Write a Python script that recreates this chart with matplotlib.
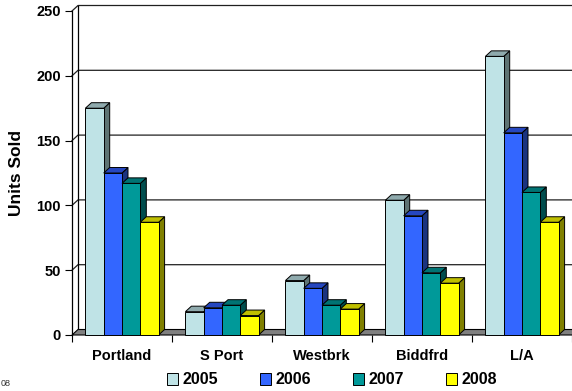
import matplotlib
matplotlib.use("Agg")
import matplotlib.pyplot as plt
from matplotlib.patches import Polygon, Patch
import numpy as np

plt.rcParams['font.family'] = ['Liberation Sans', 'DejaVu Sans']

towns = ['Portland', 'S Port', 'Westbrk', 'Biddfrd', 'L/A']
years = ['2005', '2006', '2007', '2008']
units_2005 = [175, 18, 42, 104, 215]
units_2006 = [125, 21, 36, 92, 156]
units_2007 = [117, 23, 23, 48, 110]
units_2008 = [87, 15, 20, 40, 87]
yticks = [0, 50, 100, 150, 200, 250]

series = [units_2005, units_2006, units_2007, units_2008]
front = ['#BFE3E6', '#3366FF', '#009999', '#FFFF00']
side = ['#5E7373', '#1A3380', '#004D4D', '#808000']
top = ['#8FAAAD', '#2647BF', '#007373', '#BFBF00']

W, H = 572, 391
fig = plt.figure(figsize=(W / 100, H / 100), dpi=100)
ax = fig.add_axes([72 / W, 56 / H, 500 / W, 324 / H])
ax.set_xlim(-0.5, 4.5)
ax.set_ylim(0, 250)

# depth of the 3d look, in data units (about 6 px right, 5.5 px up)
dx = 6 / 100
dy = 5.5 * 250 / 324
x0, x1 = -0.5, 4.5

# back wall, left wall and gridlines
for v in yticks[1:]:
    ax.plot([x0, x0 + dx, x1 + dx + 1], [v, v + dy, v + dy], color='#202020',
            lw=0.9, clip_on=False, zorder=0)
ax.plot([x0 + dx, x0 + dx], [dy, 250 + dy], color='black', lw=0.9, clip_on=False, zorder=0)

# floor
ax.add_patch(Polygon([[x0, 0], [x1 + 1, 0], [x1 + 1 + dx, dy], [x0 + dx, dy]],
                     closed=True, facecolor='#808080', edgecolor='black', lw=0.8,
                     clip_on=False, zorder=1))

bw = 0.183
xs = np.arange(len(towns))
for i, vals in enumerate(series):
    pos = xs + (i - 1.5) * bw
    z = 3 + i
    for x, v in zip(pos, vals):
        l, r = x - bw / 2, x + bw / 2
        ax.add_patch(Polygon([[r, 0], [r + dx, dy], [r + dx, v + dy], [r, v]], closed=True,
                             facecolor=side[i], edgecolor='black', lw=0.7, zorder=z, clip_on=False))
        ax.add_patch(Polygon([[l, v], [l + dx, v + dy], [r + dx, v + dy], [r, v]], closed=True,
                             facecolor=top[i], edgecolor='black', lw=0.7, zorder=z, clip_on=False))
    ax.bar(pos, vals, width=bw, color=front[i], edgecolor='black', linewidth=0.7,
           zorder=z, clip_on=False)

for s in ['top', 'right']:
    ax.spines[s].set_visible(False)
ax.spines['left'].set_linewidth(0.9)
ax.spines['bottom'].set_visible(False)

ax.set_yticks(yticks)
ax.set_yticklabels([str(t) for t in yticks], fontsize=10.5, fontweight='bold')
ax.tick_params(axis='y', direction='out', length=5, width=0.8, pad=3)

ax.set_xticks(np.arange(-0.5, 5.0, 1.0))
ax.set_xticklabels([])
ax.tick_params(axis='x', which='major', direction='out', length=5, width=0.8)
ax.set_xticks(xs, minor=True)
ax.set_xticklabels(towns, minor=True, fontsize=10.5, fontweight='bold')
ax.tick_params(axis='x', which='minor', length=0, pad=10)

ax.set_ylabel('Units Sold', fontsize=12.5, fontweight='bold', labelpad=9)

handles = [Patch(facecolor=front[i], edgecolor='black', lw=0.7, label=years[i]) for i in range(4)]
fig.legend(handles=handles, loc='center', bbox_to_anchor=(332 / W, 1 - 380 / H), ncol=4,
           frameon=False, prop={'weight': 'bold', 'size': 11.5}, handlelength=0.7,
           handleheight=0.7, handletextpad=0.3, columnspacing=2.6)

fig.text(0.5 / W, 1 - 383 / H, '08', fontsize=6.5, ha='left', va='center', color='#333333')

fig.savefig('out.png', dpi=100)
